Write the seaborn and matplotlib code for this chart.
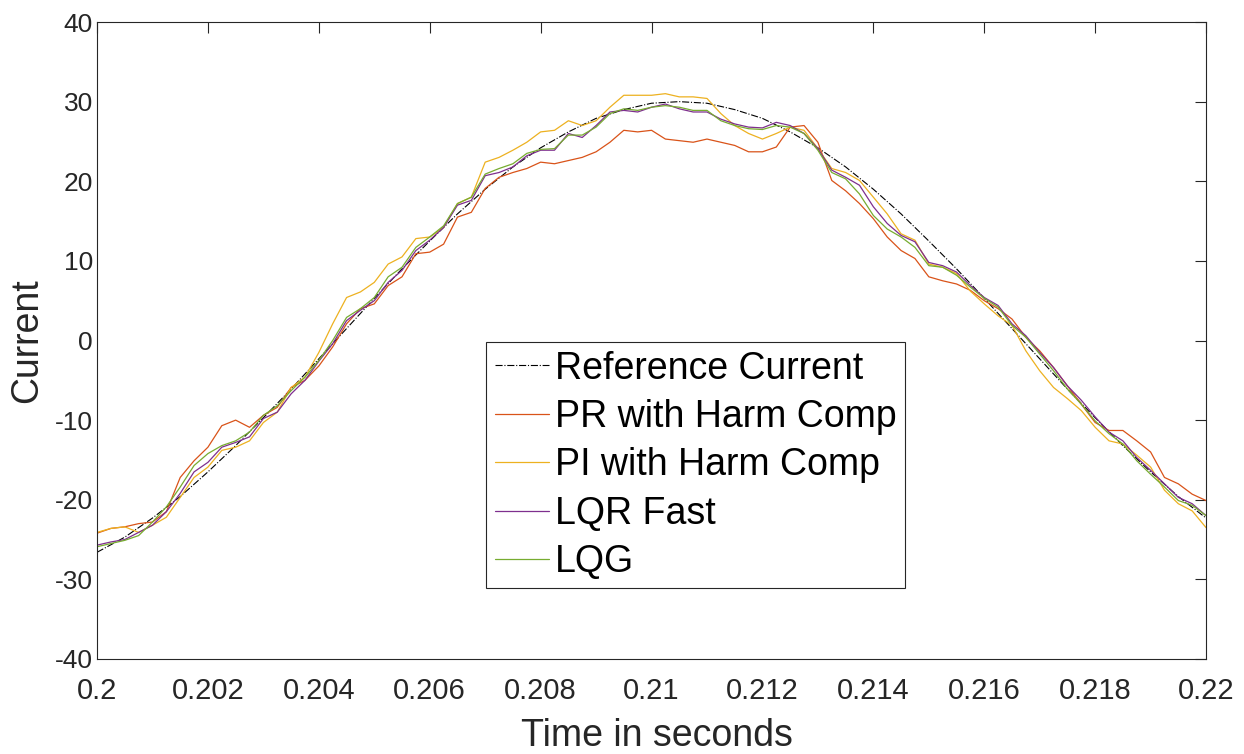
import numpy as np
import pandas as pd
import matplotlib
matplotlib.use("Agg")
import matplotlib.pyplot as plt
import seaborn as sns

# ---- data -------------------------------------------------------------
# measured currents, sampled every 0.25 ms from 0.200 s to 0.220 s
t_meas = np.linspace(0.200, 0.220, 81)

pr_harm = [
    -24.2, -23.6, -23.4, -23.0, -22.8, -21.5, -17.2, -15.1, -13.4, -10.7,
    -10.0, -10.9, -9.4, -8.4, -5.9, -5.0, -3.2, -0.8, 2.1, 4.0,
    4.6, 6.9, 8.0, 10.9, 11.1, 12.1, 15.5, 16.1, 19.1, 20.5,
    21.1, 21.6, 22.4, 22.2, 22.6, 23.0, 23.7, 24.9, 26.4, 26.2,
    26.4, 25.3, 25.1, 24.9, 25.3, 24.9, 24.5, 23.7, 23.7, 24.3,
    26.8, 27.0, 24.9, 20.1, 18.8, 17.2, 15.3, 13.0, 11.3, 10.3,
    8.0, 7.5, 7.1, 6.3, 5.0, 4.0, 2.7, 0.4, -1.3, -3.4,
    -5.7, -8.0, -10.3, -11.3, -11.3, -12.6, -14.0, -17.2, -18.0, -19.3,
    -20.1,
]

pi_harm = [
    -24.1, -23.6, -23.4, -24.1, -23.2, -22.2, -19.7, -17.2, -15.9, -13.8,
    -13.4, -12.6, -10.3, -9.0, -5.9, -4.6, -1.5, 2.1, 5.4, 6.1,
    7.3, 9.6, 10.5, 12.8, 13.0, 14.2, 17.2, 18.0, 22.4, 23.0,
    23.9, 24.9, 26.2, 26.4, 27.6, 27.0, 27.6, 29.3, 30.8, 30.8,
    30.8, 31.0, 30.6, 30.6, 30.4, 28.5, 27.0, 26.0, 25.3, 26.0,
    26.8, 26.4, 24.1, 21.6, 21.1, 20.1, 18.0, 15.9, 13.4, 12.6,
    9.6, 9.2, 8.4, 6.2, 4.6, 3.1, 1.9, -1.3, -3.8, -5.9,
    -7.3, -8.8, -10.9, -12.6, -13.0, -14.4, -15.9, -18.8, -20.5, -21.4,
    -23.5,
]

lqr_fast = [
    -25.7, -25.3, -25.0, -24.1, -23.2, -21.5, -19.2, -16.5, -15.3, -13.4,
    -12.8, -12.1, -9.8, -9.0, -6.7, -5.0, -2.6, -0.4, 2.5, 3.8,
    5.0, 7.3, 8.8, 11.3, 12.6, 14.2, 17.0, 17.6, 20.7, 21.1,
    21.8, 23.2, 23.9, 23.9, 26.0, 25.5, 27.0, 28.7, 28.9, 28.7,
    29.3, 29.7, 29.1, 28.7, 28.7, 27.8, 27.2, 26.8, 26.7, 27.4,
    27.0, 26.0, 24.1, 21.4, 20.5, 19.5, 16.8, 14.7, 13.2, 12.4,
    9.8, 9.4, 8.6, 6.9, 5.4, 4.4, 2.1, 0.6, -1.5, -3.4,
    -5.7, -7.5, -9.6, -11.5, -12.6, -14.7, -16.3, -18.0, -19.7, -20.5,
    -22.0,
]

lqg = [
    -25.9, -25.5, -25.1, -24.5, -22.8, -20.9, -18.4, -15.7, -14.2, -13.2,
    -12.6, -11.5, -9.4, -8.2, -6.3, -4.6, -2.5, 0.0, 2.9, 4.0,
    5.4, 8.0, 9.2, 11.7, 13.0, 14.4, 17.2, 18.0, 20.9, 21.6,
    22.2, 23.5, 24.0, 24.1, 25.8, 25.8, 26.8, 28.5, 29.1, 28.9,
    29.3, 29.5, 29.3, 28.9, 28.9, 27.6, 27.0, 26.6, 26.5, 27.0,
    26.8, 26.0, 23.9, 21.1, 20.3, 18.4, 15.7, 14.0, 13.0, 11.7,
    9.4, 9.2, 8.2, 6.7, 5.3, 4.2, 1.9, 0.4, -1.7, -3.8,
    -6.1, -8.0, -10.1, -11.7, -13.0, -15.1, -16.8, -18.4, -20.1, -20.7,
    -22.0,
]

# reference current, sampled every 0.5 ms
t_ref = np.linspace(0.200, 0.220, 41)
ref_current = [
    -26.6, -24.7, -22.3, -19.6, -16.5, -13.2, -9.7, -6.1, -2.3, 1.5,
    5.3, 9.0, 12.5, 15.9, 19.0, 21.8, 24.2, 26.2, 27.9, 29.0,
    29.8, 30.0, 29.8, 29.0, 27.9, 26.2, 24.2, 21.8, 19.0, 15.9,
    12.5, 9.0, 5.3, 1.5, -2.3, -6.1, -9.7, -13.2, -16.5, -19.6,
    -22.3,
]

series_names = ["PR with Harm Comp", "PI with Harm Comp", "LQR Fast", "LQG"]
series_values = [pr_harm, pi_harm, lqr_fast, lqg]
series_colors = ["#D95319", "#EDB120", "#7E2F8E", "#77AC30"]

x_ticks = [0.200, 0.202, 0.204, 0.206, 0.208, 0.210, 0.212, 0.214, 0.216, 0.218, 0.220]
x_tick_labels = ["0.2", "0.202", "0.204", "0.206", "0.208", "0.21",
                 "0.212", "0.214", "0.216", "0.218", "0.22"]
y_ticks = [-40, -30, -20, -10, 0, 10, 20, 30, 40]

# ---- styling ----------------------------------------------------------
sns.set_style("white")
plt.rcParams["font.family"] = ["Liberation Sans", "DejaVu Sans"]

fig = plt.figure(figsize=(12.44, 7.54), dpi=100)
ax = fig.add_axes([0.078, 0.126, 0.8915, 0.8448])

ref_df = pd.DataFrame({"time": t_ref, "current": ref_current})
sns.lineplot(data=ref_df, x="time", y="current", ax=ax, color="black",
             linestyle="-.", linewidth=0.8, label="Reference Current")

for name, vals, col in zip(series_names, series_values, series_colors):
    df = pd.DataFrame({"time": t_meas, "current": vals})
    sns.lineplot(data=df, x="time", y="current", ax=ax, color=col,
                 linewidth=0.9, label=name)

ax.set_xlim(0.200, 0.220)
ax.set_ylim(-40, 40)
ax.set_xticks(x_ticks)
ax.set_xticklabels(x_tick_labels)
ax.set_yticks(y_ticks)
ax.set_yticklabels([str(v) for v in y_ticks])

ax.tick_params(axis="both", which="both", direction="in", length=8, width=0.8,
               top=True, right=True, colors="#262626", labelcolor="#262626")
ax.tick_params(axis="x", labelsize=21, pad=13)
ax.tick_params(axis="y", labelsize=19, pad=3)
for sp in ax.spines.values():
    sp.set_visible(True)
    sp.set_color("#262626")
    sp.set_linewidth(0.8)

ax.set_xlabel("Time in seconds", fontsize=27, color="#262626")
ax.set_ylabel("Current", fontsize=27, color="#262626")
ax.xaxis.set_label_coords(0.505, -0.092)
ax.yaxis.set_label_coords(-0.047, 0.5)

leg = ax.legend(loc="lower left", bbox_to_anchor=(0.351, 0.111),
                borderaxespad=0, fontsize=27, frameon=True, fancybox=False,
                framealpha=1, edgecolor="#262626", handlelength=1.45,
                handletextpad=0.15, labelspacing=0.33, borderpad=0.22)
leg.get_frame().set_linewidth(0.8)
for txt in leg.get_texts():
    txt.set_color("black")

fig.savefig("out.png", dpi=100)
